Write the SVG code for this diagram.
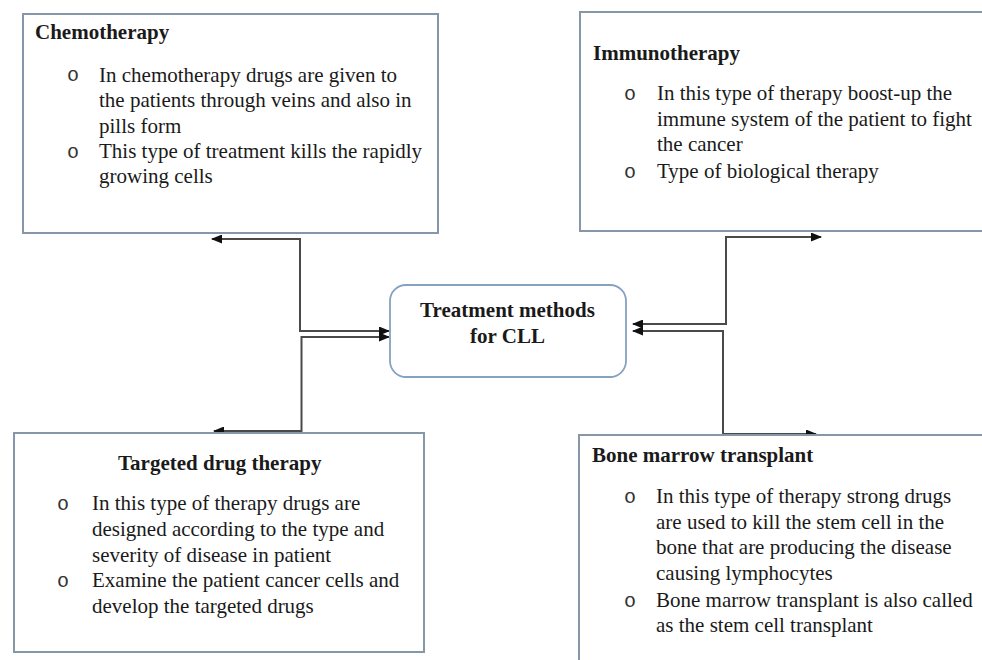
<svg xmlns="http://www.w3.org/2000/svg" width="982" height="660" viewBox="0 0 982 660">
<style>
.box{fill:#fff;stroke:#8797aa;stroke-width:2}
.cbox{fill:#fff;stroke:#86a2c0;stroke-width:1.8}
.t{font-family:"Liberation Serif","Times New Roman",serif;font-size:21px;fill:#1a1a1a}
.b{font-weight:bold}
.bul{font-family:"Liberation Mono","Courier New",monospace;font-size:20px;fill:#333}
.con{fill:none;stroke:#4a4a4a;stroke-width:2}
</style>
<defs>
<marker id="ah" markerUnits="userSpaceOnUse" markerWidth="11" markerHeight="9" refX="10" refY="4.5" orient="auto-start-reverse">
<path d="M0,0 L11,4.5 L0,9 z" fill="#111"/>
</marker>
</defs>
<rect width="982" height="660" fill="#fff"/>
<g id="connectors">
<path class="con" d="M389,331 H300 V239 H212" marker-start="url(#ah)" marker-end="url(#ah)"/>
<path class="con" d="M389,337 H301.5 V431 H214" marker-start="url(#ah)" marker-end="url(#ah)"/>
<path class="con" d="M633,324 H726 V237 H821" marker-start="url(#ah)" marker-end="url(#ah)"/>
<path class="con" d="M633,331 H723 V434 H816" marker-start="url(#ah)" marker-end="url(#ah)"/>
</g>
<g id="chemotherapy">
<rect class="box" x="23" y="14" width="415" height="219"/>
<text class="t b" x="35" y="39">Chemotherapy</text>
<text class="bul" x="67" y="81">o</text>
<text class="bul" x="67" y="158">o</text>
<text class="t"><tspan x="99" y="81.5">In chemotherapy drugs are given to</tspan><tspan x="99" y="107">the patients through veins and also in</tspan><tspan x="99" y="132.5">pills form</tspan><tspan x="99" y="158">This type of treatment kills the rapidly</tspan><tspan x="99" y="183">growing cells</tspan></text>
</g>
<g id="immunotherapy">
<rect class="box" x="580" y="12" width="412" height="219"/>
<text class="t b" x="593" y="60">Immunotherapy</text>
<text class="bul" x="624" y="100">o</text>
<text class="bul" x="624" y="178">o</text>
<text class="t"><tspan x="657" y="100">In this type of therapy boost-up the</tspan><tspan x="657" y="125.5">immune system of the patient to fight</tspan><tspan x="657" y="151">the cancer</tspan><tspan x="657" y="178">Type of biological therapy</tspan></text>
</g>
<g id="center">
<rect class="cbox" x="390" y="285" width="236" height="92" rx="16" ry="16"/>
<text class="t b" x="507.5" y="317" text-anchor="middle">Treatment methods</text>
<text class="t b" x="507.5" y="343" text-anchor="middle">for CLL</text>
</g>
<g id="targeted">
<rect class="box" x="14" y="433" width="410" height="219"/>
<text class="t b" x="118" y="470">Targeted drug therapy</text>
<text class="bul" x="57" y="510">o</text>
<text class="bul" x="57" y="587">o</text>
<text class="t"><tspan x="92" y="510">In this type of therapy drugs are</tspan><tspan x="92" y="536">designed according to the type and</tspan><tspan x="92" y="561.5">severity of disease in patient</tspan><tspan x="92" y="587">Examine the patient cancer cells and</tspan><tspan x="92" y="613">develop the targeted drugs</tspan></text>
</g>
<g id="bonemarrow">
<rect class="box" x="579" y="435" width="412" height="240"/>
<text class="t b" x="592" y="462">Bone marrow transplant</text>
<text class="bul" x="624" y="503">o</text>
<text class="bul" x="624" y="607">o</text>
<text class="t"><tspan x="656" y="503">In this type of therapy strong drugs</tspan><tspan x="656" y="528.5">are used to kill the stem cell in the</tspan><tspan x="656" y="554">bone that are producing the disease</tspan><tspan x="656" y="580">causing lymphocytes</tspan><tspan x="656" y="607">Bone marrow transplant is also called</tspan><tspan x="656" y="632">as the stem cell transplant</tspan></text>
</g>
</svg>
